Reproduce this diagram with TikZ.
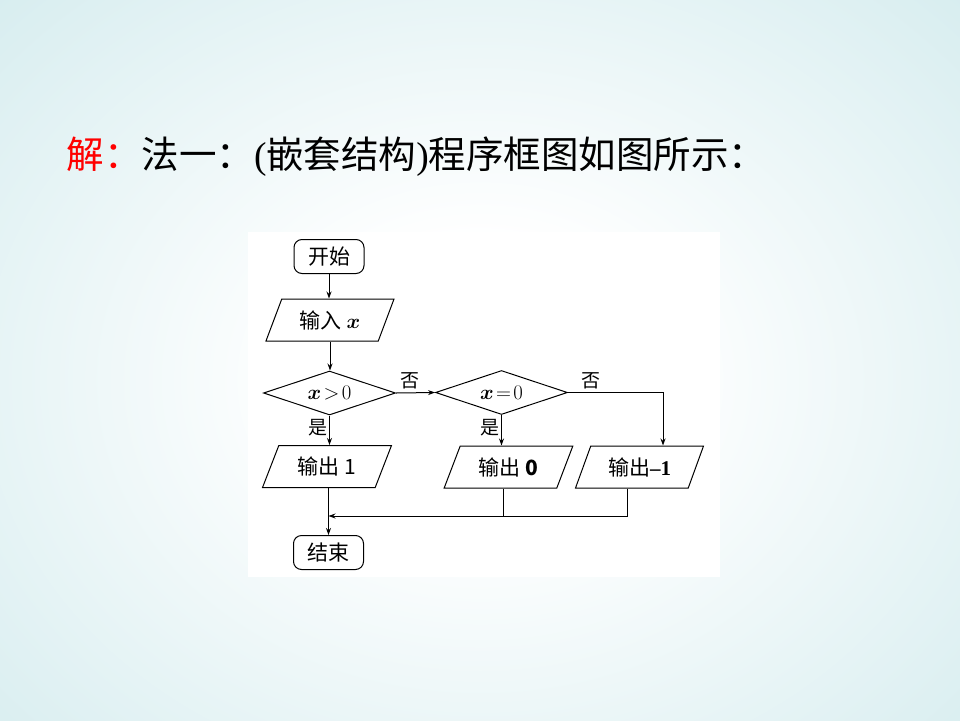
\documentclass[tikz,border=0pt]{standalone}
\usepackage{amsmath}
\usepackage{fontspec}
\setmainfont{Liberation Serif}
\newfontfamily\cjk{Noto Sans CJK SC}
\usetikzlibrary{shapes.geometric,arrows.meta}
\definecolor{bgteal}{RGB}{184,222,226}
\definecolor{bgmid}{RGB}{204,232,235}
\pgfdeclareradialshading{bgshade}{\pgfpoint{0bp}{0bp}}{color(0bp)=(white); color(8bp)=(white); color(38bp)=(bgmid); color(50bp)=(bgteal)}
\begin{document}
\begin{tikzpicture}[x=1pt,y=-1pt,
  line width=1pt,
  arr/.style={-{Stealth[length=7pt,width=5pt]}},
  box/.style={font=\fontsize{21}{24}\selectfont, inner sep=0pt},
  term/.style={box, draw, rounded corners=8pt, minimum width=70pt, minimum height=34pt},
  io/.style={box, draw, trapezium, trapezium left angle=63, trapezium right angle=117,
             trapezium stretches=true, minimum width=129pt, minimum height=42pt},
  dec/.style={box, draw, diamond, aspect=3, minimum width=132pt, minimum height=44pt},
  lab/.style={font=\fontsize{19}{20}\selectfont\cjk, inner sep=1pt}
]
\useasboundingbox (0,0) rectangle (960,720);
\shade[shading=bgshade] (-60,-60) rectangle (1020,820);
\fill[white] (248,232) rectangle (720,577);

\node[anchor=base west, inner sep=0pt, font=\fontsize{37.5}{40}\selectfont] (title) at (66,168)
  {\textcolor{red}{\cjk 解：}\cjk 法一：\rmfamily(\cjk 嵌套结构\rmfamily)\cjk 程序框图如图所示：};

\node[term] (start) at (329,256.5) {\cjk 开始};
\node[io] (in) at (330,320) {\cjk 输入 $\boldsymbol{x}$};
\node[dec] (d1) at (329.5,393) {$\boldsymbol{x}\!>\!0$};
\node[dec] (d2) at (501.5,392.5) {$\boldsymbol{x}\!=\!0$};
\node[io] (o1) at (327,466.5) {\cjk 输出 1};
\node[io] (o0) at (508.5,467) {\cjk 输出 \textbf{0}};
\node[io] (om) at (639.5,467) {\cjk 输出\rmfamily\textbf{--1}};
\node[term] (end) at (328.5,552.5) {\cjk 结束};
\coordinate (join) at (328.5,516);

\draw[arr] (start.south) -- (start.south |- in.north);
\draw[arr] (in.south) -- (in.south |- d1.north);
\draw[arr] (d1.east) -- (d2.west) node[lab, pos=0.35, above=2pt] {否};
\draw[arr] (d2.east) -| ([xshift=23.5pt]om.north) node[lab, pos=0.12, above=2pt] {否};
\draw[arr] (d1.south) -- (d1.south |- o1.north) node[lab, pos=0.4, left=1pt] {是};
\draw[arr] (d2.south) -- (d2.south |- o0.north) node[lab, pos=0.4, left=1pt] {是};
\draw[arr] ([xshift=-12.5pt]om.south) |- (join);
\draw ([xshift=-5.5pt]o0.south) -- ([xshift=-5.5pt]o0.south |- join);
\draw[arr] (end.north |- o1.south) -- (end.north);
\end{tikzpicture}
\end{document}
